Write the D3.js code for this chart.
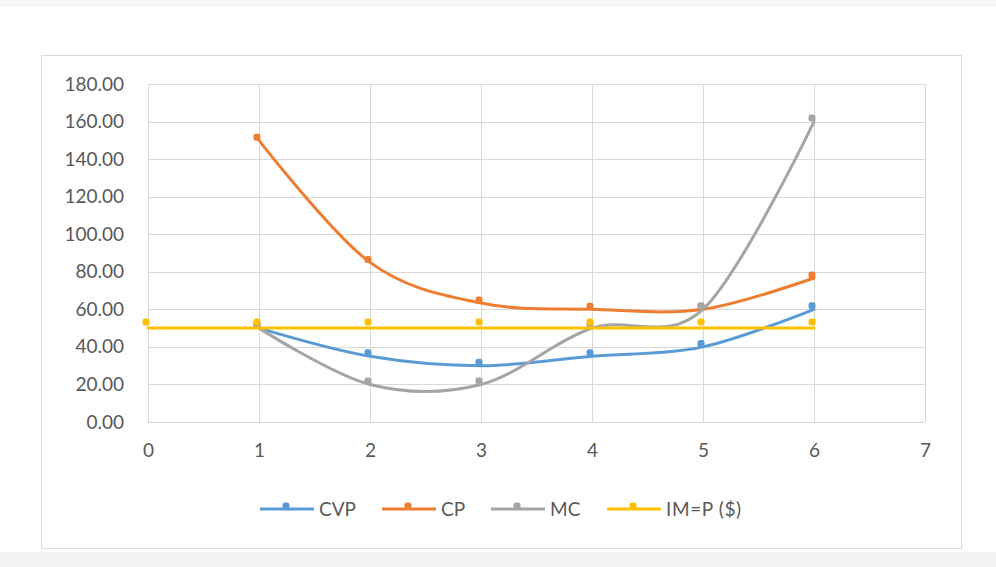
<!DOCTYPE html>
<html><head><meta charset="utf-8">
<script src="https://cdn.jsdelivr.net/npm/d3@7"></script>
<style>
html,body{margin:0;padding:0;background:#fff;}
svg{display:block;}
text{font-family:Lato,"Open Sans",sans-serif;fill:#595959;}
</style></head><body>
<svg id="c" width="996" height="567"></svg>
<script>
const qty = [1, 2, 3, 4, 5, 6];
const cvp = [50, 35, 30, 35, 40, 60];
const cp = [150, 85, 63.33, 60, 60, 76.67];
const mc = [50, 20, 20, 50, 60, 160];
const imQty = [0, 1, 2, 3, 4, 5, 6];
const im = [50, 50, 50, 50, 50, 50, 50];
const yTicks = [0, 20, 40, 60, 80, 100, 120, 140, 160, 180];
const xTicks = [0, 1, 2, 3, 4, 5, 6, 7];
const seriesNames = ["CVP", "CP", "MC", "IM=P ($)"];
const colors = ["#5B9BD5", "#ED7D31", "#A5A5A5", "#FFC000"];

const svg = d3.select("#c");
svg.append("rect").attr("x",0).attr("y",0).attr("width",996).attr("height",7).attr("fill","#f7f7f7");
svg.append("rect").attr("x",0).attr("y",552).attr("width",996).attr("height",15).attr("fill","#f4f4f4");
svg.append("rect").attr("x",41.5).attr("y",55.5).attr("width",920).attr("height",493)
  .attr("fill","#fff").attr("stroke","#d9d9d9").attr("stroke-width",1);

const x = d3.scaleLinear().domain([0,7]).range([148,925]);
const y = d3.scaleLinear().domain([0,180]).range([422,84]);

const g = svg.append("g");
g.selectAll("line.h").data(yTicks).join("line")
  .attr("x1",x(0)).attr("x2",x(7)).attr("y1",d=>Math.round(y(d))+0.5).attr("y2",d=>Math.round(y(d))+0.5)
  .attr("stroke","#d9d9d9").attr("stroke-width",1);
g.selectAll("line.v").data(xTicks).join("line")
  .attr("y1",y(0)).attr("y2",y(180)).attr("x1",d=>Math.round(x(d))+0.5).attr("x2",d=>Math.round(x(d))+0.5)
  .attr("stroke","#d9d9d9").attr("stroke-width",1);

const FS = 19;
const yAxis = d3.axisLeft(y).tickValues(yTicks).tickFormat(d3.format(".2f")).tickSize(0).tickPadding(24);
const ya = svg.append("g").attr("transform",`translate(${x(0)},0)`).call(yAxis);
ya.select(".domain").remove();
ya.selectAll("text").attr("font-size",FS).attr("fill","#595959").attr("font-family","Lato");
const xAxis = d3.axisBottom(x).tickValues(xTicks).tickFormat(d3.format("d")).tickSize(0).tickPadding(22);
const xa = svg.append("g").attr("transform",`translate(0,${y(0)})`).call(xAxis);
xa.select(".domain").remove();
xa.selectAll("text").attr("font-size",FS).attr("fill","#595959").attr("font-family","Lato");

const series = [
  {name:seriesNames[0], xs:qty, ys:cvp, c:colors[0], dy:-3.5},
  {name:seriesNames[1], xs:qty, ys:cp, c:colors[1], dy:-3},
  {name:seriesNames[2], xs:qty, ys:mc, c:colors[2], dy:-3.5},
  {name:seriesNames[3], xs:imQty, ys:im, c:colors[3], dy:-6}
];
const line = d3.line().x(d=>x(d[0])).y(d=>y(d[1])).curve(d3.curveCatmullRom.alpha(0));
series.forEach(s=>{
  const pts = s.xs.map((v,i)=>[v,s.ys[i]]);
  const mg = svg.append("g").attr("transform",`translate(-2,${s.dy})`);
  mg.selectAll("rect").data(pts).join("rect")
    .attr("x",d=>x(d[0])-3.5).attr("y",d=>y(d[1])-3.5).attr("width",7).attr("height",7).attr("rx",2.5)
    .attr("fill",s.c);
  svg.append("path").attr("d",line(pts)).attr("fill","none").attr("stroke",s.c).attr("stroke-width",3)
    .attr("stroke-linecap","round");
});

const legX = [260, 382, 491, 607];
const leg = svg.append("g");
series.forEach((s,i)=>{
  const lx = legX[i], ly = 509;
  leg.append("line").attr("x1",lx).attr("x2",lx+54).attr("y1",ly).attr("y2",ly).attr("stroke",s.c).attr("stroke-width",3);
  leg.append("rect").attr("x",lx+27-3.5-1).attr("y",ly-3.5-3).attr("width",7).attr("height",7).attr("rx",2.5).attr("fill",s.c);
  leg.append("text").attr("x",lx+59).attr("y",ly).attr("dy","0.36em").attr("font-size",FS)
    .attr("letter-spacing", i===3 ? "0.6px" : "0px").text(s.name);
});
</script>
</body></html>
